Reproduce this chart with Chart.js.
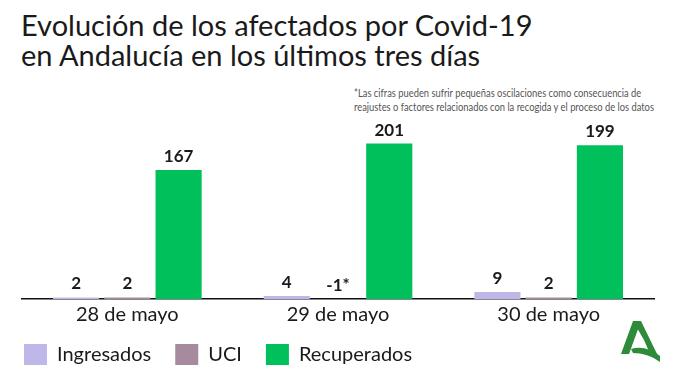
<!DOCTYPE html>
<html>
<head>
<meta charset="utf-8">
<script src="https://cdn.jsdelivr.net/npm/chart.js@4.4.0/dist/chart.umd.min.js"></script>
<style>
  html, body { margin: 0; padding: 0; background: #fff; }
  body { width: 680px; height: 382px; position: relative; overflow: hidden; font-family: Lato, sans-serif; }
  #title { position: absolute; left: 21px; top: 10px; font-size: 29px; line-height: 30px; color: #1a1a1a; font-weight: 400; }
  #note { position: absolute; left: 354px; top: 86px; font-family: Lato, sans-serif; font-size: 11px; line-height: 14px; color: #555; white-space: nowrap; transform-origin: 0 0; }
  #wrap { position: absolute; left: 0; top: 115px; width: 680px; height: 267px; }
  #logo { position: absolute; left: 620px; top: 320px; }
</style>
</head>
<body>
<div id="title">Evolución de los afectados por Covid-19<br>en Andalucía en los últimos tres días</div>
<div id="note">*Las cifras pueden sufrir pequeñas oscilaciones como consecuencia de<br>reajustes o factores relacionados con la recogida y el proceso de los datos</div>
<div id="wrap"><canvas id="chart"></canvas></div>
<svg id="logo" width="44" height="46" viewBox="0 0 44 46">
  <path d="M13 1 L21 1 L38 36 L31 36 L24 20 Z" fill="#2e8b3a"/>
  <path d="M13 1 L21 1 L9 34 L1 34 Z" fill="#2e8b3a"/>
  <path d="M11 29 C20 26 30 28 40 36 L40 42 C32 36 22 33 13 33 Z" fill="#2e8b3a"/>
</svg>
<script>
var categories = ['28 de mayo', '29 de mayo', '30 de mayo'];
var ingresados = [2, 4, 9];
var uci = [2, -1, 2];
var recuperados = [167, 201, 199];
var ingresadosLabels = ['2', '4', '9'];
var uciLabels = ['2', '-1*', '2'];
var recuperadosLabels = ['167', '201', '199'];

// squeeze the footnote to the width it has in the original
var note = document.getElementById('note');
note.style.transform = 'scaleX(' + (300 / note.scrollWidth) + ')';

var valueLabels = {
    id: 'valueLabels',
    afterDatasetsDraw: function (chart) {
        var ctx = chart.ctx;
        ctx.save();
        ctx.font = 'bold 17px Lato, sans-serif';
        ctx.fillStyle = '#1a1a1a';
        ctx.textAlign = 'center';
        ctx.textBaseline = 'bottom';
        chart.data.datasets.forEach(function (ds, i) {
            chart.getDatasetMeta(i).data.forEach(function (bar, j) {
                var top = Math.min(bar.y, bar.base);
                ctx.fillText(ds.labels[j], bar.x, top - 5);
            });
        });
        ctx.restore();
    }
};

new Chart('chart', {
    type: 'bar',
    data: {
        labels: categories,
        datasets: [{
            label: 'Ingresados',
            data: ingresados,
            labels: ingresadosLabels,
            backgroundColor: '#bdb8e8'
        }, {
            label: 'UCI',
            data: uci,
            labels: uciLabels,
            backgroundColor: '#a58b9d'
        }, {
            label: 'Recuperados',
            data: recuperados,
            labels: recuperadosLabels,
            backgroundColor: '#00c05b'
        }]
    },
    options: {
        responsive: true,
        maintainAspectRatio: false,
        animation: false,
        categoryPercentage: 0.73,
        barPercentage: 0.9,
        layout: { padding: { left: 0, right: 26, top: 0, bottom: 7 } },
        plugins: {
            legend: {
                position: 'bottom',
                align: 'start',
                labels: {
                    boxWidth: 23,
                    boxHeight: 21,
                    padding: 24,
                    color: '#1a1a1a',
                    font: { family: 'Lato, sans-serif', size: 20 }
                }
            },
            tooltip: { enabled: false }
        },
        scales: {
            x: {
                grid: { display: false, drawTicks: false },
                border: { display: true, color: '#111', width: 1.5 },
                ticks: { color: '#1a1a1a', padding: 4, font: { family: 'Lato, sans-serif', size: 20 } },
                afterFit: function (scale) {
                    scale.height = 21;
                    // labels hang below the squeezed axis box, so don't clip them
                    scale._computeLabelArea = function () {};
                }
            },
            y: {
                min: 0,
                max: 238,
                grid: { display: false },
                border: { display: false },
                ticks: { display: false },
                afterFit: function (scale) { scale.width = 22; }
            }
        }
    },
    plugins: [valueLabels]
});
</script>
</body>
</html>
